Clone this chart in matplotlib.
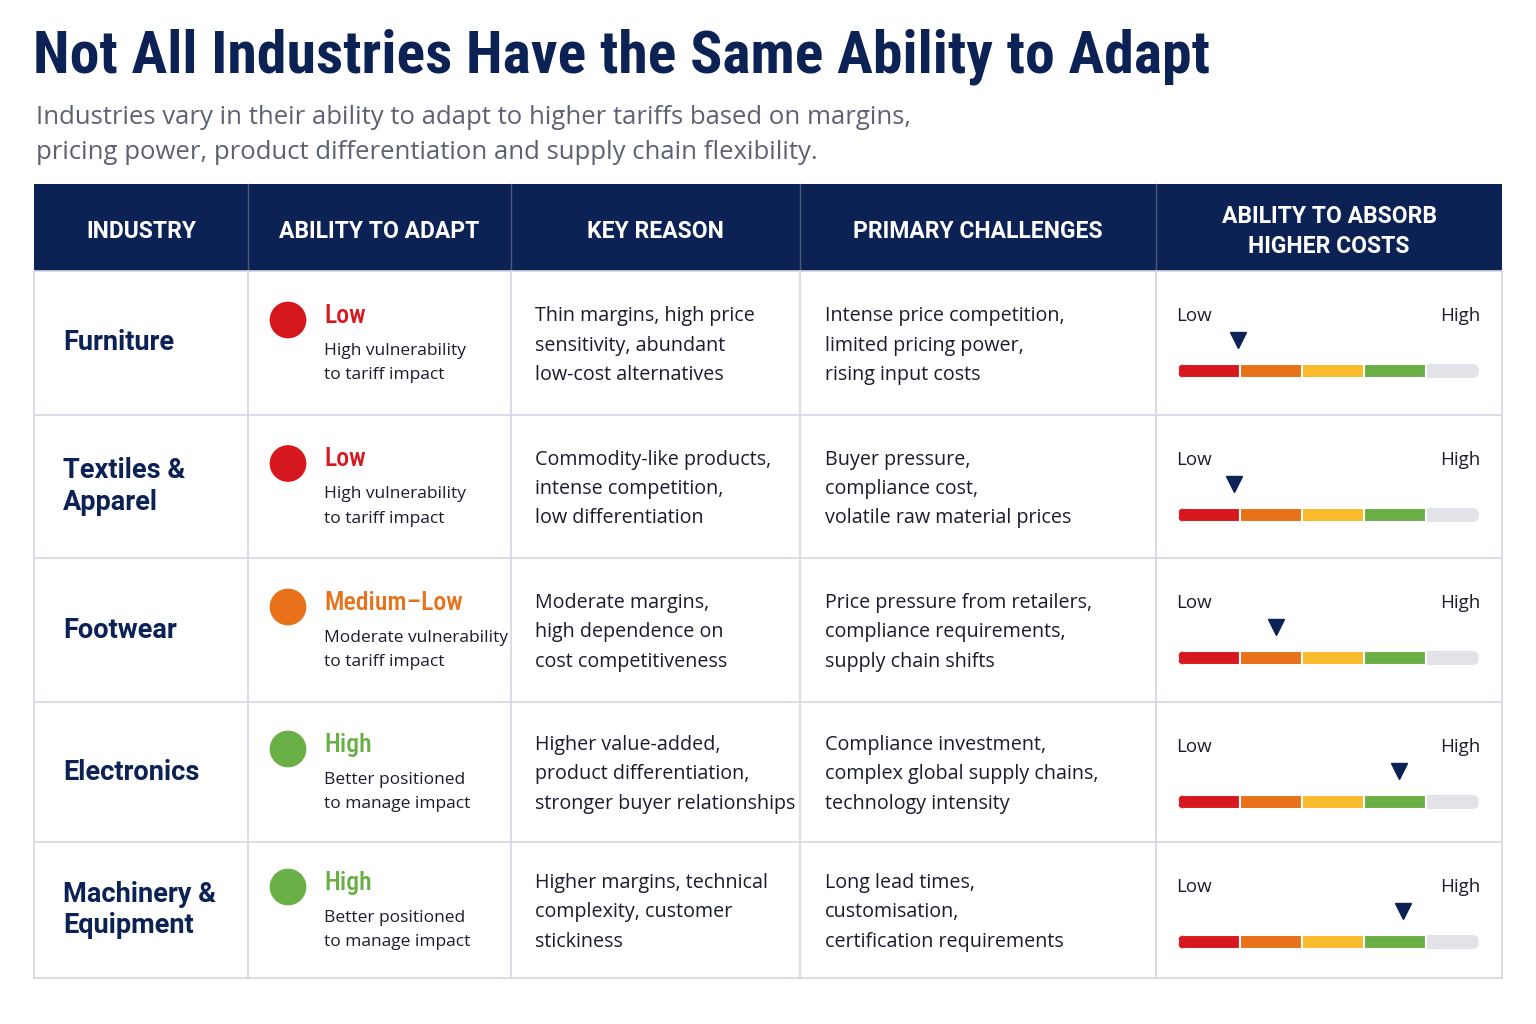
import matplotlib
matplotlib.use("Agg")
import matplotlib.pyplot as plt
from matplotlib.patches import Rectangle, FancyBboxPatch

# ---- data ----
title = "Not All Industries Have the Same Ability to Adapt"
subtitle = ("Industries vary in their ability to adapt to higher tariffs based on margins,\n"
            "pricing power, product differentiation and supply chain flexibility.")
headers = ["INDUSTRY", "ABILITY TO ADAPT", "KEY REASON", "PRIMARY CHALLENGES",
           "ABILITY TO ABSORB\nHIGHER COSTS"]
industries = ["Furniture", "Textiles &\nApparel", "Footwear", "Electronics", "Machinery &\nEquipment"]
levels = ["Low", "Low", "Medium\u2013Low", "High", "High"]
level_notes = ["High vulnerability\nto tariff impact",
               "High vulnerability\nto tariff impact",
               "Moderate vulnerability\nto tariff impact",
               "Better positioned\nto manage impact",
               "Better positioned\nto manage impact"]
reasons = ["Thin margins, high price\nsensitivity, abundant\nlow-cost alternatives",
           "Commodity-like products,\nintense competition,\nlow differentiation",
           "Moderate margins,\nhigh dependence on\ncost competitiveness",
           "Higher value-added,\nproduct differentiation,\nstronger buyer relationships",
           "Higher margins, technical\ncomplexity, customer\nstickiness"]
challenges = ["Intense price competition,\nlimited pricing power,\nrising input costs",
              "Buyer pressure,\ncompliance cost,\nvolatile raw material prices",
              "Price pressure from retailers,\ncompliance requirements,\nsupply chain shifts",
              "Compliance investment,\ncomplex global supply chains,\ntechnology intensity",
              "Long lead times,\ncustomisation,\ncertification requirements"]
# marker position on the absorb scale, in segment units (0 = low end)
absorb = [0.97, 0.90, 1.58, 3.56, 3.63]

NAVY = "#0c2154"
GRID = "#d3d7e0"
TEXT = "#1a1d2b"
level_colors = {"Low": "#d7191f", "Medium\u2013Low": "#e8711a", "High": "#6aaf45"}
seg_colors = ["#d7191f", "#e8711a", "#f9bb2b", "#6aaf45"]
TRACK = "#e2e3e8"

BODY = ["Open Sans", "DejaVu Sans"]
SANS = ["Roboto", "DejaVu Sans"]
COND = ["Roboto Condensed", "Roboto", "DejaVu Sans"]

# ---- layout (pixel space) ----
col_x = [34, 248, 511, 800, 1156, 1502]
row_y = [271, 415, 558, 702, 842, 978]
head_top = 184

fig = plt.figure(figsize=(15.36, 10.24), dpi=100)
fig.patch.set_facecolor("white")
ax = fig.add_axes([0, 0, 1, 1])
ax.set_xlim(0, 1536)
ax.set_ylim(1024, 0)
ax.axis("off")

ax.text(33, 57, title, fontsize=43, fontweight="bold", color=NAVY, family=COND,
        va="center", ha="left")
ax.text(36, 135, subtitle, fontsize=18.5, color="#5d6272", family=BODY,
        va="center", ha="left", linespacing=1.5)

# header
ax.add_patch(Rectangle((col_x[0], head_top), col_x[-1] - col_x[0], row_y[0] - head_top,
                       facecolor=NAVY, edgecolor="none"))
for i, h in enumerate(headers):
    cx = (col_x[i] + col_x[i + 1]) / 2
    ax.text(cx, (head_top + row_y[0]) / 2 + 4, h, color="white", fontsize=16.5,
            fontweight="bold", family=SANS, ha="center", va="center", linespacing=1.44)
for x in col_x[1:-1]:
    ax.plot([x, x], [head_top, row_y[0]], color="#4a5a80", lw=1)

# grid
for y in row_y:
    ax.plot([col_x[0], col_x[-1]], [y, y], color=GRID, lw=1.2)
for x in col_x:
    ax.plot([x, x], [row_y[0], row_y[-1]], color=GRID, lw=1.2)

bar_x0, bar_x1 = 1178, 1479
seg_w = 62

for r in range(len(industries)):
    top, bot = row_y[r], row_y[r + 1]
    cy = (top + bot) / 2
    ax.text(63, cy, industries[r], fontsize=19.5, fontweight="bold", color=NAVY,
            family=SANS, ha="left", va="center", linespacing=1.22)

    col = level_colors[levels[r]]
    ax.scatter([288], [cy - 23], s=700, color=col, edgecolors="none", zorder=3)
    ax.text(324, cy - 27, levels[r], fontsize=18.5, color=col, family=COND,
            ha="left", va="center", fontweight="medium")
    ax.text(324, cy + 20, level_notes[r], fontsize=12.5, color=TEXT, family=BODY,
            ha="left", va="center", linespacing=1.73)

    ax.text(535, cy + 2.5, reasons[r], fontsize=14.2, color=TEXT, family=BODY,
            ha="left", va="center", linespacing=1.61)
    ax.text(825, cy + 2.5, challenges[r], fontsize=14.2, color=TEXT, family=BODY,
            ha="left", va="center", linespacing=1.61)

    # gauge
    ax.text(1176, top + 45, "Low", fontsize=13.5, color=TEXT, family=BODY,
            ha="left", va="center")
    ax.text(1480, top + 45, "High", fontsize=13.5, color=TEXT, family=BODY,
            ha="right", va="center")
    by = top + 100
    track = FancyBboxPatch((bar_x0, by - 7), bar_x1 - bar_x0, 14,
                           boxstyle="round,pad=0,rounding_size=7",
                           facecolor=TRACK, edgecolor="none")
    ax.add_patch(track)
    for k, c in enumerate(seg_colors):
        seg = Rectangle((bar_x0 + k * seg_w, by - 7), seg_w, 14, facecolor=c,
                        edgecolor="white", lw=1.5)
        ax.add_patch(seg)
        seg.set_clip_path(track)
    ax.plot([bar_x0 + absorb[r] * seg_w], [top + 69], marker="v", markersize=12,
            color=NAVY, linestyle="none")

fig.savefig("out.png", dpi=100, facecolor="white")
